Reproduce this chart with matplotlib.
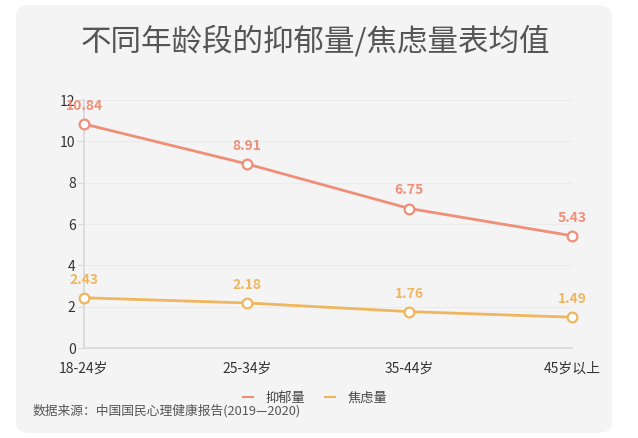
import matplotlib
matplotlib.use("Agg")
import matplotlib.pyplot as plt
from matplotlib.patches import FancyBboxPatch

plt.rcParams['font.family'] = ['Noto Sans CJK SC', 'DejaVu Sans']

# data
ages = ['18-24岁', '25-34岁', '35-44岁', '45岁以上']
depression = [10.84, 8.91, 6.75, 5.43]
anxiety = [2.43, 2.18, 1.76, 1.49]
series_names = ['抑郁量', '焦虑量']
yticks = [0, 2, 4, 6, 8, 10, 12]

c_dep = '#ef8f78'
c_anx = '#efb65e'

W, H = 638, 438
fig = plt.figure(figsize=(W / 100, H / 100), dpi=100)
fig.patch.set_facecolor('white')

# rounded grey card behind everything
card = FancyBboxPatch((16 / W, 5 / H), 596 / W, 428 / H,
                      boxstyle="round,pad=0,rounding_size=0.025",
                      transform=fig.transFigure, facecolor='#f4f4f5',
                      edgecolor='none', zorder=-10)
fig.patches.append(card)

ax = fig.add_axes([84 / W, (H - 348) / H, (572 - 84) / W, (348 - 100) / H])
ax.set_facecolor('none')

x = list(range(len(ages)))
for vals, col in [(depression, c_dep), (anxiety, c_anx)]:
    ax.plot(x, vals, color=col, lw=2, marker='o', ms=7, mfc='white',
            mec=col, mew=1.6, clip_on=False, zorder=3)
    for xi, v in zip(x, vals):
        ax.annotate(f'{v:.2f}', (xi, v), xytext=(0, 8), textcoords='offset points',
                    ha='center', va='bottom', color=col, fontsize=10,
                    fontweight='bold', zorder=4)

ax.set_xlim(0, 3)
ax.set_ylim(0, 12)
ax.set_yticks(yticks)
ax.set_xticks(x)
ax.set_xticklabels(ages)
ax.tick_params(axis='y', length=4, color='#d8d8d8', labelsize=10, labelcolor='#333333', pad=2)
ax.tick_params(axis='x', length=0, labelsize=10, labelcolor='#333333', pad=10)
ax.grid(axis='y', color='#ebebeb', lw=0.8)
ax.set_axisbelow(True)
for s in ['top', 'right']:
    ax.spines[s].set_visible(False)
for s in ['left', 'bottom']:
    ax.spines[s].set_color('#d8d8d8')
    ax.spines[s].set_linewidth(1.2)

fig.text(315 / W, 1 - 42 / H, '不同年龄段的抑郁量/焦虑量表均值', ha='center', va='center',
         fontsize=22, color='#555555')

# legend
fig.legend([plt.Line2D([], [], color=c_dep, lw=1.5), plt.Line2D([], [], color=c_anx, lw=1.5)],
           series_names, loc='center', bbox_to_anchor=(315 / W, 1 - 398 / H),
           ncol=2, frameon=False, fontsize=9.5, handlelength=0.8, columnspacing=1.5,
           handletextpad=0.9, labelcolor='#444444')

fig.text(33 / W, 1 - 411 / H, '数据来源：中国国民心理健康报告(2019—2020)', ha='left', va='center',
         fontsize=9.2, color='#555555')

fig.savefig('out.png', dpi=100, facecolor='white')
